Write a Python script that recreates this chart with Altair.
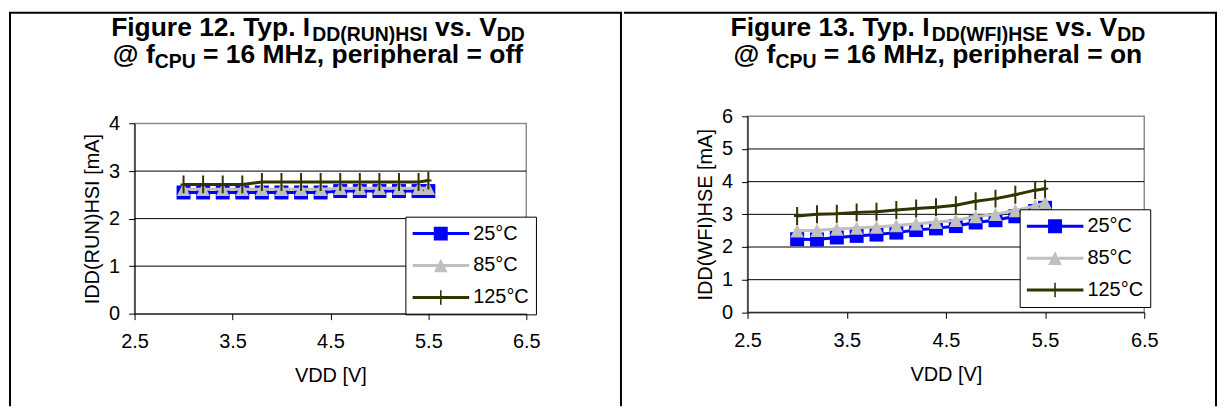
import altair as alt
import pandas as pd

# ---------------- data ----------------
vdd = [3.0, 3.2, 3.4, 3.6, 3.8, 4.0, 4.2, 4.4, 4.6, 4.8, 5.0, 5.2, 5.4, 5.5]
series_names = ["25°C", "85°C", "125°C"]

# Figure 12: IDD(RUN)HSI [mA]
run_25 = [2.55, 2.55, 2.55, 2.55, 2.55, 2.55, 2.55, 2.55, 2.58, 2.58, 2.58, 2.58, 2.58, 2.58]
run_85 = [2.62, 2.62, 2.62, 2.62, 2.62, 2.62, 2.62, 2.62, 2.64, 2.64, 2.64, 2.64, 2.64, 2.64]
run_125 = [2.72, 2.72, 2.72, 2.72, 2.77, 2.77, 2.77, 2.77, 2.77, 2.77, 2.77, 2.77, 2.77, 2.80]

# Figure 13: IDD(WFI)HSE [mA]
wfi_25 = [2.24, 2.23, 2.29, 2.34, 2.38, 2.44, 2.52, 2.57, 2.64, 2.75, 2.82, 2.94, 3.10, 3.20]
wfi_85 = [2.50, 2.51, 2.55, 2.58, 2.61, 2.66, 2.71, 2.76, 2.82, 2.93, 3.00, 3.12, 3.26, 3.36]
wfi_125 = [2.95, 3.00, 3.02, 3.06, 3.08, 3.13, 3.18, 3.22, 3.28, 3.40, 3.48, 3.60, 3.74, 3.78]

x_ticks = [2.5, 3.5, 4.5, 5.5, 6.5]
run_y_ticks = [0, 1, 2, 3, 4]
wfi_y_ticks = [0, 1, 2, 3, 4, 5, 6]
run_grid = [1, 2, 3]
wfi_grid = [1, 2, 3, 4, 5]

title12 = [[("Figure 12. Typ. I", False), ("DD(RUN)HSI", True), (" vs. V", False), ("DD", True)],
           [("@ f", False), ("CPU", True), (" = 16 MHz, peripheral = off", False)]]
title13 = [[("Figure 13. Typ. I", False), ("DD(WFI)HSE", True), (" vs. V", False), ("DD", True)],
           [("@ f", False), ("CPU", True), (" = 16 MHz, peripheral = on", False)]]

# ---------------- styles ----------------
FONT = "Liberation Sans, Arial, sans-serif"
COLORS = ["#0000FF", "#C0C0C0", "#333300"]
H = 395
W_LEFT, W_RIGHT = 615, 595

BOLD_W = {' ': 278, '.': 278, ',': 278, '(': 333, ')': 333, '=': 584, '@': 975,
          'F': 611, 'i': 278, 'g': 611, 'u': 611, 'r': 389, 'e': 556, 'T': 611, 'y': 556,
          'p': 611, 'I': 278, 'D': 722, 'R': 722, 'U': 722, 'N': 722, 'H': 722, 'S': 667,
          'v': 556, 's': 556, 'V': 667, 'f': 333, 'C': 722, 'P': 667, 'M': 833, 'z': 500,
          'h': 611, 'l': 278, 'a': 556, 'o': 611, 'n': 611, 'W': 944, 'E': 667}
for d in "0123456789":
    BOLD_W[d] = 556

MAIN_SIZE, SUB_SIZE, SUB_SHIFT = 26.5, 19.5, 5

# legend symbols: line + marker (unit coords, scaled by sqrt(size)/2)
LEG_SIZE = 57 * 57
LINE = "M-1,-0.053H1V0.053H-1Z"
LEG_PATHS = [
    LINE + "M-0.246,-0.246H0.246V0.246H-0.246Z",
    LINE + "M0,-0.24L0.24,0.24H-0.24Z",
    LINE + "M-0.028,-0.255H0.028V0.255H-0.028Z",
]


def seg_width(text, size):
    return sum(BOLD_W.get(c, 556) for c in text) * size / 1000.0


def text_layer(txt, x, y, size):
    return alt.Chart(pd.DataFrame({"t": [txt]})).mark_text(
        align="left", baseline="alphabetic", font=FONT, fontSize=size,
        fontWeight="bold", color="black"
    ).encode(x=alt.value(x), y=alt.value(y), text="t:N")


def title_layers(lines, cx, baselines):
    out = []
    for segs, yb in zip(lines, baselines):
        sizes = [SUB_SIZE if sub else MAIN_SIZE for _, sub in segs]
        total = sum(seg_width(t, s) for (t, _), s in zip(segs, sizes))
        x = cx - total / 2.0
        for (t, sub), s in zip(segs, sizes):
            lead = len(t) - len(t.lstrip(' '))
            out.append(text_layer(t.strip(), x + lead * 278 * s / 1000.0,
                                  yb + (SUB_SHIFT if sub else 0), s))
            x += seg_width(t, s)
    return out


def rule_h(x1, x2, y):
    return alt.Chart(pd.DataFrame({"a": [0]})).mark_rule(color="black", strokeWidth=2).encode(
        x=alt.value(x1), x2=alt.value(x2), y=alt.value(y))


def rule_v(x, y1, y2):
    return alt.Chart(pd.DataFrame({"a": [0]})).mark_rule(color="black", strokeWidth=2).encode(
        x=alt.value(x), y=alt.value(y1), y2=alt.value(y2))


def panel(width, series_vals, y_max, y_ticks, grid_vals, x_range, y_range, y_title,
          title_lines, title_cx, legend_xy, frame):
    x_scale = alt.Scale(domain=[2.5, 6.5], range=x_range, nice=False, zero=False)
    y_scale = alt.Scale(domain=[0, y_max], range=y_range, nice=False, zero=False)
    x_axis = alt.Axis(values=x_ticks, format=".1f", title="VDD [V]", grid=False,
                      offset=-(H - y_range[0]), labelFont=FONT, labelFontSize=20,
                      labelColor="black", labelFlush=False, labelPadding=12,
                      tickSize=6, tickColor="black", domainColor="black",
                      titleFont=FONT, titleFontSize=20, titleFontWeight="normal",
                      titleColor="black", titlePadding=14, zindex=1)
    y_axis = alt.Axis(values=y_ticks, format="d", title=y_title, grid=False,
                      offset=-x_range[0], labelFont=FONT, labelFontSize=20,
                      labelColor="black", labelPadding=9, tickSize=6,
                      tickColor="black", domainColor="black", titleFont=FONT,
                      titleFontSize=20, titleFontWeight="normal", titleColor="black",
                      titlePadding=6, zindex=1)

    def X(f):
        return alt.X(f, type="quantitative", scale=x_scale, axis=x_axis)

    def Y(f):
        return alt.Y(f, type="quantitative", scale=y_scale, axis=y_axis)

    layers = []
    # plot area
    area = alt.Chart(pd.DataFrame({"x0": [2.5], "x1": [6.5], "y0": [0], "y1": [y_max]})).mark_rect(
        fill="white", stroke="#8c8c8c", strokeWidth=1.5
    ).encode(x=X("x0"), x2="x1", y=Y("y0"), y2="y1")
    layers.append(area)
    grid = alt.Chart(pd.DataFrame({"g": grid_vals, "x0": 2.5, "x1": 6.5})).mark_rule(
        color="black", strokeWidth=1
    ).encode(y=Y("g"), x=X("x0"), x2="x1")
    layers.append(grid)

    frames = []
    for i, vals in enumerate(series_vals):
        frames.append(pd.DataFrame({"vdd": vdd, "idd": vals, "series": series_names[i]}))

    # series 1: blue squares
    layers.append(alt.Chart(frames[0]).mark_line(color=COLORS[0], strokeWidth=3).encode(x=X("vdd"), y=Y("idd")))
    layers.append(alt.Chart(frames[0]).mark_point(shape="square", filled=True, size=196, color=COLORS[0],
                                                  opacity=1).encode(x=X("vdd"), y=Y("idd")))
    # series 2: gray triangles
    layers.append(alt.Chart(frames[1]).mark_line(color=COLORS[1], strokeWidth=3).encode(x=X("vdd"), y=Y("idd")))
    layers.append(alt.Chart(frames[1]).mark_point(shape="M0,-1L1,1L-1,1Z", filled=True, size=182,
                                                  color=COLORS[1], opacity=1).encode(x=X("vdd"), y=Y("idd")))
    # series 3: olive plus
    layers.append(alt.Chart(frames[2]).mark_line(color=COLORS[2], strokeWidth=3).encode(x=X("vdd"), y=Y("idd")))
    layers.append(alt.Chart(frames[2]).mark_point(shape="M0,-1V1M-0.35,0H0.35", filled=False, size=324,
                                                  color=COLORS[2], strokeWidth=2, opacity=1
                                                  ).encode(x=X("vdd"), y=Y("idd")))

    # legend (driven by scale domain; no marks drawn)
    leg = alt.Legend(orient="none", legendX=legend_xy[0], legendY=legend_xy[1], title=None,
                     padding=7, strokeColor="black", fillColor="white", labelFont=FONT,
                     labelFontSize=20, labelColor="black", labelOffset=4, rowPadding=12,
                     clipHeight=20, symbolSize=LEG_SIZE, symbolStrokeWidth=0, labelLimit=300,
                     cornerRadius=0, direction="vertical")
    all_df = pd.concat(frames, ignore_index=True)
    legend_layer = alt.Chart(all_df).transform_filter("false").mark_point(
        filled=True, opacity=1, size=LEG_SIZE
    ).encode(
        x=X("vdd"), y=Y("idd"),
        shape=alt.Shape("series:N", scale=alt.Scale(domain=series_names, range=LEG_PATHS), legend=leg),
        color=alt.Color("series:N", scale=alt.Scale(domain=series_names, range=COLORS), legend=leg),
    )
    layers.append(legend_layer)

    layers += title_layers(title_lines, title_cx, [23, 51])
    layers += frame
    return alt.layer(*layers).properties(width=width, height=H)


left = panel(W_LEFT, [run_25, run_85, run_125], 4, run_y_ticks, run_grid,
             [126, 519], [302, 111.3], "IDD(RUN)HSI [mA]", title12, 310, (397.7, 204.7),
             [rule_h(0, W_LEFT, 0), rule_v(1, 0, H), rule_v(614, 0, H)])
right = panel(W_RIGHT, [wfi_25, wfi_85, wfi_125], 6, wfi_y_ticks, wfi_grid,
              [124, 522], [300.7, 104], "IDD(WFI)HSE [mA]", title13, 315, (397, 197.3),
              [rule_h(0, W_RIGHT, 0), rule_v(W_RIGHT - 1, 0, H)])

chart = alt.hconcat(left, right, spacing=0).resolve_scale(
    x="independent", y="independent", color="independent", shape="independent"
).resolve_legend(color="independent", shape="independent").configure_view(
    stroke=None
).properties(
    padding={"left": 0, "top": 3, "right": 0, "bottom": 0}, background="white"
)

chart.save("out.html", embed_options={"renderer": "svg", "actions": False})
